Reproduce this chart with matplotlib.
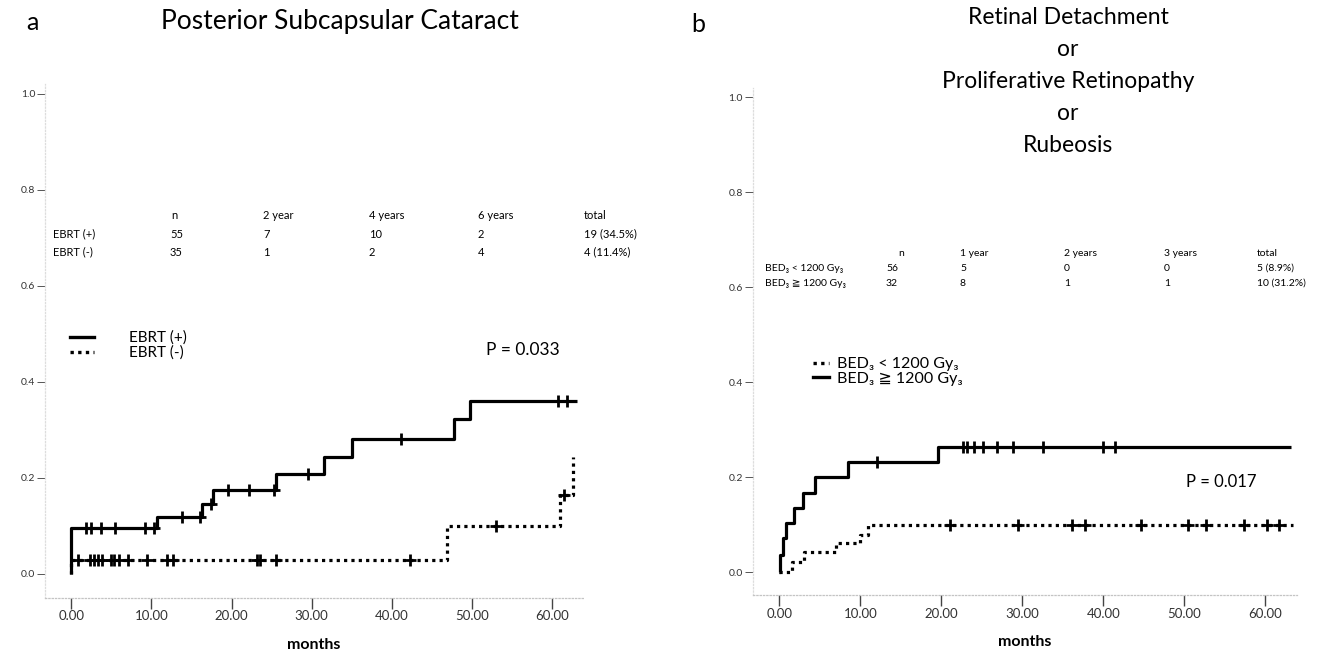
import numpy as np
import matplotlib
matplotlib.use("Agg")
import matplotlib.pyplot as plt
from matplotlib.lines import Line2D

plt.rcParams['font.family'] = ['Lato', 'DejaVu Sans']

W, H = 1326, 654

# Panel a: posterior subcapsular cataract (cumulative incidence)
a_pos_times = [0, 0, 10.7, 16.3, 17.7, 25.5, 31.6, 35.0, 47.8, 49.8]
a_pos_levels = [0, 0.095, 0.118, 0.146, 0.175, 0.208, 0.244, 0.281, 0.322, 0.360]
a_pos_end = 63.2
a_pos_censor = [1.85, 2.5, 3.7, 5.5, 9.2, 10.3, 13.8, 16.1, 17.4, 19.6, 22.2,
                25.3, 29.6, 41.2, 60.8, 61.95]

a_neg_times = [0, 0, 46.95, 61.0, 62.7]
a_neg_levels = [0, 0.029, 0.099, 0.165, 0.244]
a_neg_end = 62.7
a_neg_censor = [0.8, 2.3, 2.8, 3.3, 3.8, 4.9, 5.3, 6.0, 7.1, 9.4, 12.0, 12.7,
                23.2, 23.5, 25.6, 42.3, 53.0, 61.5]

# Panel b: retinal detachment / proliferative retinopathy / rubeosis
b_hi_times = [0, 0.1, 0.42, 0.78, 1.8, 2.9, 4.4, 8.5, 19.6]
b_hi_levels = [0, 0.036, 0.072, 0.103, 0.135, 0.167, 0.200, 0.232, 0.264]
b_hi_end = 63.2
b_hi_censor = [12.0, 22.7, 23.2, 24.0, 25.2, 26.9, 28.9, 32.5, 39.9, 41.4]

b_lo_times = [0, 1.55, 3.1, 7.05, 9.9, 10.95]
b_lo_levels = [0, 0.022, 0.043, 0.062, 0.078, 0.099]
b_lo_end = 63.4
b_lo_censor = [21.1, 29.4, 36.1, 37.7, 44.6, 50.4, 52.7, 57.4, 60.2, 61.7]

x_ticks = [0, 10, 20, 30, 40, 50, 60]
y_ticks = [0.0, 0.2, 0.4, 0.6, 0.8, 1.0]

# tables
a_cols = ['n', '2 year', '4 years', '6 years', 'total']
a_rows = ['EBRT (+)', 'EBRT (-)']
a_cells = [['55', '7', '10', '2', '19 (34.5%)'],
           ['35', '1', '2', '4', '4 (11.4%)']]
b_cols = ['n', '1 year', '2 years', '3 years', 'total']
b_rows = ['BED\u2083 < 1200 Gy\u2083', 'BED\u2083 \u2267 1200 Gy\u2083']
b_cells = [['56', '5', '0', '0', '5 (8.9%)'],
           ['32', '8', '1', '1', '10 (31.2%)']]


def level_at(times, levels, t):
    idx = np.searchsorted(times, t, side='right') - 1
    return np.asarray(levels)[idx]


def draw_curve(ax, times, levels, end, censor, ls):
    xs = list(times) + [end]
    ys = list(levels) + [levels[-1]]
    ax.step(xs, ys, where='post', color='black', lw=2.3, linestyle=ls,
            solid_capstyle='butt')
    cy = level_at(times, levels, censor)
    ax.plot(censor, cy, linestyle='none', marker='+', color='black',
            ms=8, mew=2.0)


def style_axes(ax):
    ax.set_xlim(-3.3, 63.9)
    for s in ['top', 'right']:
        ax.spines[s].set_visible(False)
    ax.spines['bottom'].set_color('#c4c4c4')
    ax.spines['left'].set_color('#dddddd')
    for s in ['left', 'bottom']:
        ax.spines[s].set_linestyle(':')
        ax.spines[s].set_linewidth(0.9)
    ax.set_xticks(x_ticks)
    ax.set_xticklabels(['%.2f' % v for v in x_ticks])
    ax.set_yticks(y_ticks)
    ax.set_yticklabels(['%.1f' % v for v in y_ticks])
    ax.tick_params(axis='x', direction='out', length=8, width=1.0,
                   color='#444444', labelsize=9.5, labelcolor='#333333', pad=1)
    ax.tick_params(axis='y', direction='out', length=6, width=0.7,
                   color='#555555', labelsize=7.5, labelcolor='#333333', pad=1)
    ax.set_xlabel('months', fontsize=11.5, fontweight='bold', labelpad=11)


fig = plt.figure(figsize=(W / 100, H / 100), dpi=100)

ax_a = fig.add_axes([45 / W, 1 - 598 / H, (583 - 45) / W, (598 - 84) / H])
ax_a.set_ylim(-0.05, 1.02)
style_axes(ax_a)
draw_curve(ax_a, a_pos_times, a_pos_levels, a_pos_end, a_pos_censor, '-')
draw_curve(ax_a, a_neg_times, a_neg_levels, a_neg_end, a_neg_censor, (0, (1, 1.3)))

ax_b = fig.add_axes([752.6 / W, 1 - 595 / H, (1297 - 752.6) / W, (595 - 87.5) / H])
ax_b.set_ylim(-0.048, 1.02)
style_axes(ax_b)
draw_curve(ax_b, b_hi_times, b_hi_levels, b_hi_end, b_hi_censor, '-')
draw_curve(ax_b, b_lo_times, b_lo_levels, b_lo_end, b_lo_censor, (0, (1, 1.3)))

# legends
h_solid = Line2D([], [], color='black', lw=2.4)
h_dot = Line2D([], [], color='black', lw=2.4, linestyle=(0, (1, 1.3)))
ax_a.legend([h_solid, h_dot], ['EBRT (+)', 'EBRT (-)'], frameon=False,
            fontsize=11, handlelength=1.6, handletextpad=2.3, labelspacing=0.05,
            loc='upper left', bbox_to_anchor=(0.02, 0.547))
ax_b.legend([h_dot, h_solid], b_rows, frameon=False,
            fontsize=11.5, handlelength=1.0, handletextpad=0.5, labelspacing=0.0,
            loc='upper left', bbox_to_anchor=(0.085, 0.497))

# p values
fig.text(523 / W, 1 - 350 / H, 'P = 0.033', ha='center', va='center', fontsize=12.5)
fig.text(1221 / W, 1 - 482 / H, 'P = 0.017', ha='center', va='center', fontsize=12)

# titles and panel letters
fig.text(32 / W, 1 - 22 / H, 'a', ha='center', va='center', fontsize=18)
fig.text(340 / W, 1 - 21 / H, 'Posterior Subcapsular Cataract', ha='center',
         va='center', fontsize=19)
fig.text(698 / W, 1 - 24 / H, 'b', ha='center', va='center', fontsize=18)
b_title = ['Retinal Detachment', 'or', 'Proliferative Retinopathy', 'or', 'Rubeosis']
for i, line in enumerate(b_title):
    fig.text(1068 / W, 1 - (17 + 32 * i) / H, line, ha='center', va='center',
             fontsize=16.5)

# table a
a_col_x = [174, 263, 369, 478, 584]
for j, c in enumerate(a_cols):
    fig.text(a_col_x[j] / W, 1 - 215 / H, c, ha='center' if j == 0 else 'left',
             va='center', fontsize=8)
for i, r in enumerate(a_rows):
    y = 1 - (234 + 18 * i) / H
    fig.text(53 / W, y, r, ha='left', va='center', fontsize=8)
    for j, v in enumerate(a_cells[i]):
        fig.text((170 if j == 0 else a_col_x[j]) / W, y, v, ha='left',
                 va='center', fontsize=8)

# table b
b_col_x = [901, 960, 1064, 1164, 1257]
for j, c in enumerate(b_cols):
    fig.text(b_col_x[j] / W, 1 - 253 / H, c, ha='center' if j == 0 else 'left',
             va='center', fontsize=7.5)
for i, r in enumerate(b_rows):
    y = 1 - (268 + 15 * i) / H
    fig.text(765 / W, y, r, ha='left', va='center', fontsize=7.5)
    for j, v in enumerate(b_cells[i]):
        fig.text((886 if j == 0 else b_col_x[j]) / W, y, v, ha='left',
                 va='center', fontsize=7.5)

fig.savefig('out.png', dpi=100, facecolor='white')
